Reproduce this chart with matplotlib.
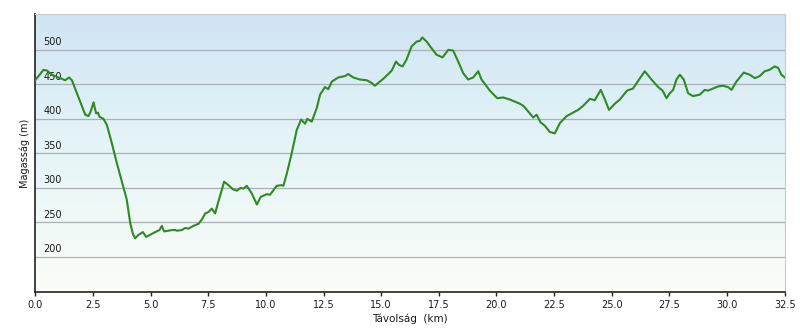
"""
Elevation profile (Magasság / Távolság).
"""
import numpy as np
import matplotlib
matplotlib.use("Agg")
import matplotlib.pyplot as plt
from matplotlib.colors import LinearSegmentedColormap

# distance along the route (km)
distance_km = [
    0.00, 0.36, 0.51, 0.72, 1.01, 1.30, 1.47, 1.59, 1.73, 1.95,
    2.17, 2.31, 2.41, 2.53, 2.64, 2.72, 2.79, 2.96, 3.11, 3.32,
    3.54, 3.76, 3.97, 4.12, 4.23, 4.33, 4.48, 4.67, 4.81, 4.98,
    5.20, 5.39, 5.49, 5.59, 5.78, 5.92, 6.07, 6.14, 6.36, 6.50,
    6.64, 6.86, 7.08, 7.22, 7.37, 7.51, 7.66, 7.80, 7.94, 8.09,
    8.19, 8.38, 8.57, 8.74, 8.91, 9.03, 9.17, 9.39, 9.61, 9.78,
    10.04, 10.18, 10.47, 10.69, 10.76, 10.91, 11.12, 11.34, 11.53, 11.70,
    11.80, 11.99, 12.21, 12.35, 12.56, 12.71, 12.86, 13.14, 13.43, 13.57,
    13.79, 14.08, 14.37, 14.59, 14.73, 14.87, 15.09, 15.31, 15.46, 15.64,
    15.78, 15.93, 16.10, 16.32, 16.54, 16.68, 16.78, 16.97, 17.19, 17.40,
    17.66, 17.91, 18.12, 18.34, 18.56, 18.77, 18.99, 19.21, 19.35, 19.71,
    20.03, 20.29, 20.58, 21.01, 21.16, 21.37, 21.59, 21.74, 21.91, 22.10,
    22.31, 22.53, 22.75, 23.04, 23.32, 23.54, 23.76, 24.05, 24.26, 24.52,
    24.70, 24.88, 25.13, 25.35, 25.66, 25.92, 26.14, 26.43, 26.72, 27.01,
    27.20, 27.37, 27.51, 27.66, 27.80, 27.95, 28.12, 28.31, 28.52, 28.81,
    29.03, 29.17, 29.39, 29.61, 29.82, 30.04, 30.19, 30.40, 30.72, 30.98,
    31.20, 31.41, 31.63, 31.84, 32.06, 32.21, 32.35, 32.50,
]

# elevation (m)
elevation_m = [
    456, 471, 470, 464, 460, 456, 460, 456, 444, 425,
    406, 404, 411, 424, 408, 409, 403, 400, 391, 365,
    336, 309, 283, 249, 234, 227, 232, 236, 229, 232,
    236, 239, 245, 237, 238, 239, 239, 238, 239, 242,
    241, 245, 248, 254, 263, 265, 270, 263, 280, 297,
    309, 304, 298, 296, 300, 299, 303, 292, 276, 287,
    291, 290, 303, 304, 303, 321, 350, 384, 399, 393,
    400, 396, 416, 435, 446, 443, 454, 460, 462, 465,
    460, 457, 456, 452, 448, 452, 458, 465, 470, 483,
    478, 476, 486, 505, 512, 513, 518, 512, 502, 493,
    489, 500, 499, 483, 466, 457, 460, 469, 457, 441,
    430, 431, 428, 422, 419, 411, 402, 406, 395, 390,
    381, 379, 394, 404, 409, 413, 419, 429, 427, 442,
    428, 413, 422, 428, 441, 444, 455, 469, 457, 446,
    441, 430, 437, 442, 457, 464, 457, 437, 433, 435,
    442, 441, 444, 447, 448, 446, 442, 454, 467, 464,
    459, 462, 469, 471, 476, 474, 464, 460,
]

x_ticks = [0.0, 2.5, 5.0, 7.5, 10.0, 12.5, 15.0, 17.5, 20.0, 22.5, 25.0, 27.5, 30.0, 32.5]
y_ticks = [200, 250, 300, 350, 400, 450, 500]


def main():
    fig = plt.figure(figsize=(8, 3.32), dpi=100)
    ax = fig.add_axes([0.044, 0.12, 0.937, 0.838])

    x_min, x_max = 0, 32.5
    y_min, y_max = 149, 552

    # sky-like background gradient
    cmap = LinearSegmentedColormap.from_list(
        "sky", ["#fbfdf7", "#e6f5f8", "#cfe5f4"])
    grad = np.linspace(0, 1, 256).reshape(-1, 1)
    ax.imshow(grad, cmap=cmap, origin="lower", aspect="auto",
              extent=[x_min, x_max, y_min, y_max], zorder=0)

    for v in y_ticks:
        ax.axhline(v, color="#a9b0b6", lw=0.9, zorder=1)
        ax.annotate(str(v), xy=(0, v), xycoords=("axes fraction", "data"),
                    xytext=(6, 2), textcoords="offset points",
                    ha="left", va="bottom", fontsize=7, color="#1a1a1a",
                    zorder=2)

    ax.plot(distance_km, elevation_m, color="#2f8a22", lw=1.5, zorder=3)

    ax.set_xlim(x_min, x_max)
    ax.set_ylim(y_min, y_max)
    ax.set_xticks(x_ticks)
    ax.set_xticklabels([f"{t:.1f}" for t in x_ticks], fontsize=7, color="#1a1a1a")
    ax.set_yticks([])
    ax.tick_params(axis="x", length=3, width=1, pad=3, color="#222222")

    for side in ("top", "right"):
        ax.spines[side].set_color("#c8c8c8")
    for side in ("left", "bottom"):
        ax.spines[side].set_color("#222222")
        ax.spines[side].set_linewidth(1.2)

    ax.set_xlabel("Távolság  (km)", fontsize=7.5, color="#1a1a1a", labelpad=2)
    ax.set_ylabel("Magasság (m)", fontsize=7, color="#1a1a1a", labelpad=4)

    fig.savefig("out.png", dpi=100, facecolor="white")


if __name__ == "__main__":
    main()
